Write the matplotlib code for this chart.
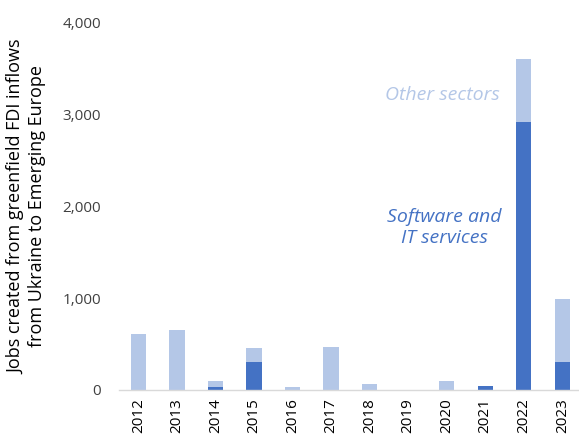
import matplotlib
matplotlib.use("Agg")
import matplotlib.pyplot as plt
from matplotlib.ticker import FuncFormatter

years = ["2012", "2013", "2014", "2015", "2016", "2017", "2018", "2019", "2020", "2021", "2022", "2023"]
software_it = [0, 0, 30, 308, 0, 0, 0, 0, 0, 40, 2920, 300]
other_sectors = [610, 652, 65, 152, 30, 471, 58, 0, 95, 0, 690, 690]

dark = "#4472C4"
light = "#B4C7E7"

plt.rcParams['font.family'] = ['Open Sans', 'DejaVu Sans']

fig = plt.figure(figsize=(5.79, 4.38), dpi=100)
ax = fig.add_axes([0.2055, 0.11, 0.799, 0.838])

x = list(range(len(years)))
ax.bar(x, software_it, width=0.40, color=dark, zorder=2)
ax.bar(x, other_sectors, width=0.40, bottom=software_it, color=light, zorder=2)

ax.set_ylim(0, 4000)
ax.set_xlim(-0.5, len(years) - 0.5)
ax.set_yticks([0, 1000, 2000, 3000, 4000])
ax.yaxis.set_major_formatter(FuncFormatter(lambda v, p: f"{int(v):,}"))
ax.set_xticks(x)
ax.set_xticklabels(years, rotation=90, fontsize=11)
ax.tick_params(axis='y', labelsize=11, length=0, pad=13, colors="#404040")
ax.tick_params(axis='x', length=0, pad=6, colors="#000000")
for s in ["top", "right", "left"]:
    ax.spines[s].set_visible(False)
ax.spines["bottom"].set_color("#D9D9D9")
ax.spines["bottom"].set_linewidth(1.0)

ax.set_ylabel("Jobs created from greenfield FDI inflows\nfrom Ukraine to Emerging Europe", fontsize=13, labelpad=12, linespacing=1.15)

ax.text(7.9, 3210, "Other sectors", color=light, fontsize=14, style="italic", ha="center", va="center")
ax.text(7.95, 1770, "Software and\nIT services", color=dark, fontsize=14, style="italic", ha="center", va="center", linespacing=1.2)

fig.savefig("out.png", dpi=100)
